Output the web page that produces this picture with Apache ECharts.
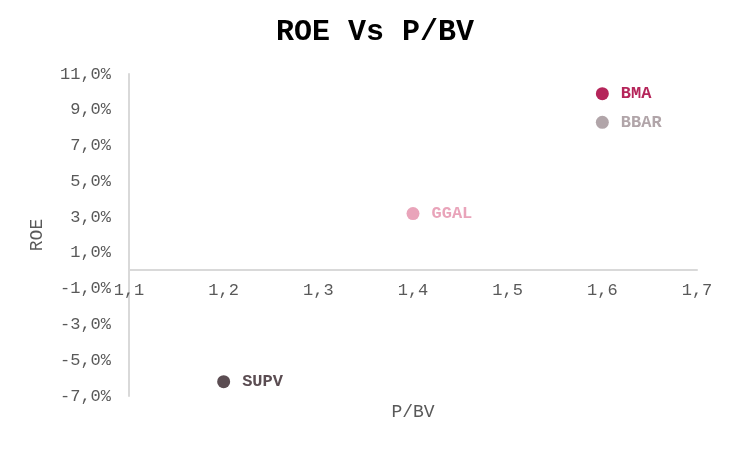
<!DOCTYPE html>
<html lang="es">
<head>
    <meta charset="UTF-8">
    <title>ROE Vs P/BV</title>
    <script src="https://cdn.jsdelivr.net/npm/echarts@6/dist/echarts.min.js"></script>
    <style>
        html, body { margin: 0; padding: 0; background: #fff; }
        #main { width: 750px; height: 450px; }
    </style>
</head>
<body>
    <div id="main"></div>
</body>
<script>
    // datos del grafico
    var bancos = ['BMA', 'BBAR', 'GGAL', 'SUPV'];
    var pbv = [1.6, 1.6, 1.4, 1.2];
    var roe = [9.9, 8.3, 3.2, -6.2];
    var colores = ['#B5255A', '#B1A5A9', '#E9A4BA', '#5B4D52'];

    var fuente = '"Courier New", "Liberation Mono", monospace';

    var series = bancos.map(function (nombre, i) {
        return {
            name: nombre,
            type: 'scatter',
            symbolSize: 13,
            itemStyle: { color: colores[i], opacity: 1 },
            label: {
                show: true,
                position: 'right',
                distance: 12,
                formatter: nombre,
                color: colores[i],
                fontFamily: fuente,
                fontWeight: 'bold',
                fontSize: 17
            },
            data: [[pbv[i], roe[i]]]
        };
    });

    var chart = echarts.init(document.getElementById('main'));
    chart.setOption({
        animation: false,
        title: {
            text: 'ROE Vs P/BV',
            left: 'center',
            top: 12,
            textStyle: {
                fontFamily: fuente,
                fontWeight: 'bold',
                fontSize: 30,
                color: '#000'
            }
        },
        grid: { left: 129, right: 53, top: 74, bottom: 54, containLabel: false, outerBoundsMode: 'none' },
        xAxis: {
            type: 'value',
            min: 1.1,
            max: 1.7,
            interval: 0.1,
            // eje X cruzando en ROE = 0
            offset: -126,
            name: 'P/BV',
            nameLocation: 'middle',
            nameGap: 133,
            nameTextStyle: { fontFamily: fuente, fontSize: 18, color: '#595959' },
            axisLine: { onZero: false, lineStyle: { color: '#d9d9d9', width: 2 } },
            axisTick: { show: false },
            splitLine: { show: false },
            axisLabel: {
                fontFamily: fuente,
                fontSize: 17,
                color: '#595959',
                margin: 12,
                formatter: function (v) { return v.toFixed(1).replace('.', ','); }
            }
        },
        yAxis: {
            type: 'value',
            min: -7,
            max: 11,
            interval: 2,
            name: 'ROE',
            nameLocation: 'middle',
            nameGap: 83,
            nameTextStyle: { fontFamily: fuente, fontSize: 18, color: '#595959' },
            axisLine: { show: true, onZero: false, lineStyle: { color: '#d9d9d9', width: 2 } },
            axisTick: { show: false },
            splitLine: { show: false },
            axisLabel: {
                fontFamily: fuente,
                fontSize: 17,
                color: '#595959',
                margin: 18,
                formatter: function (v) { return v.toFixed(1).replace('.', ',') + '%'; }
            }
        },
        series: series
    });
</script>
</html>
